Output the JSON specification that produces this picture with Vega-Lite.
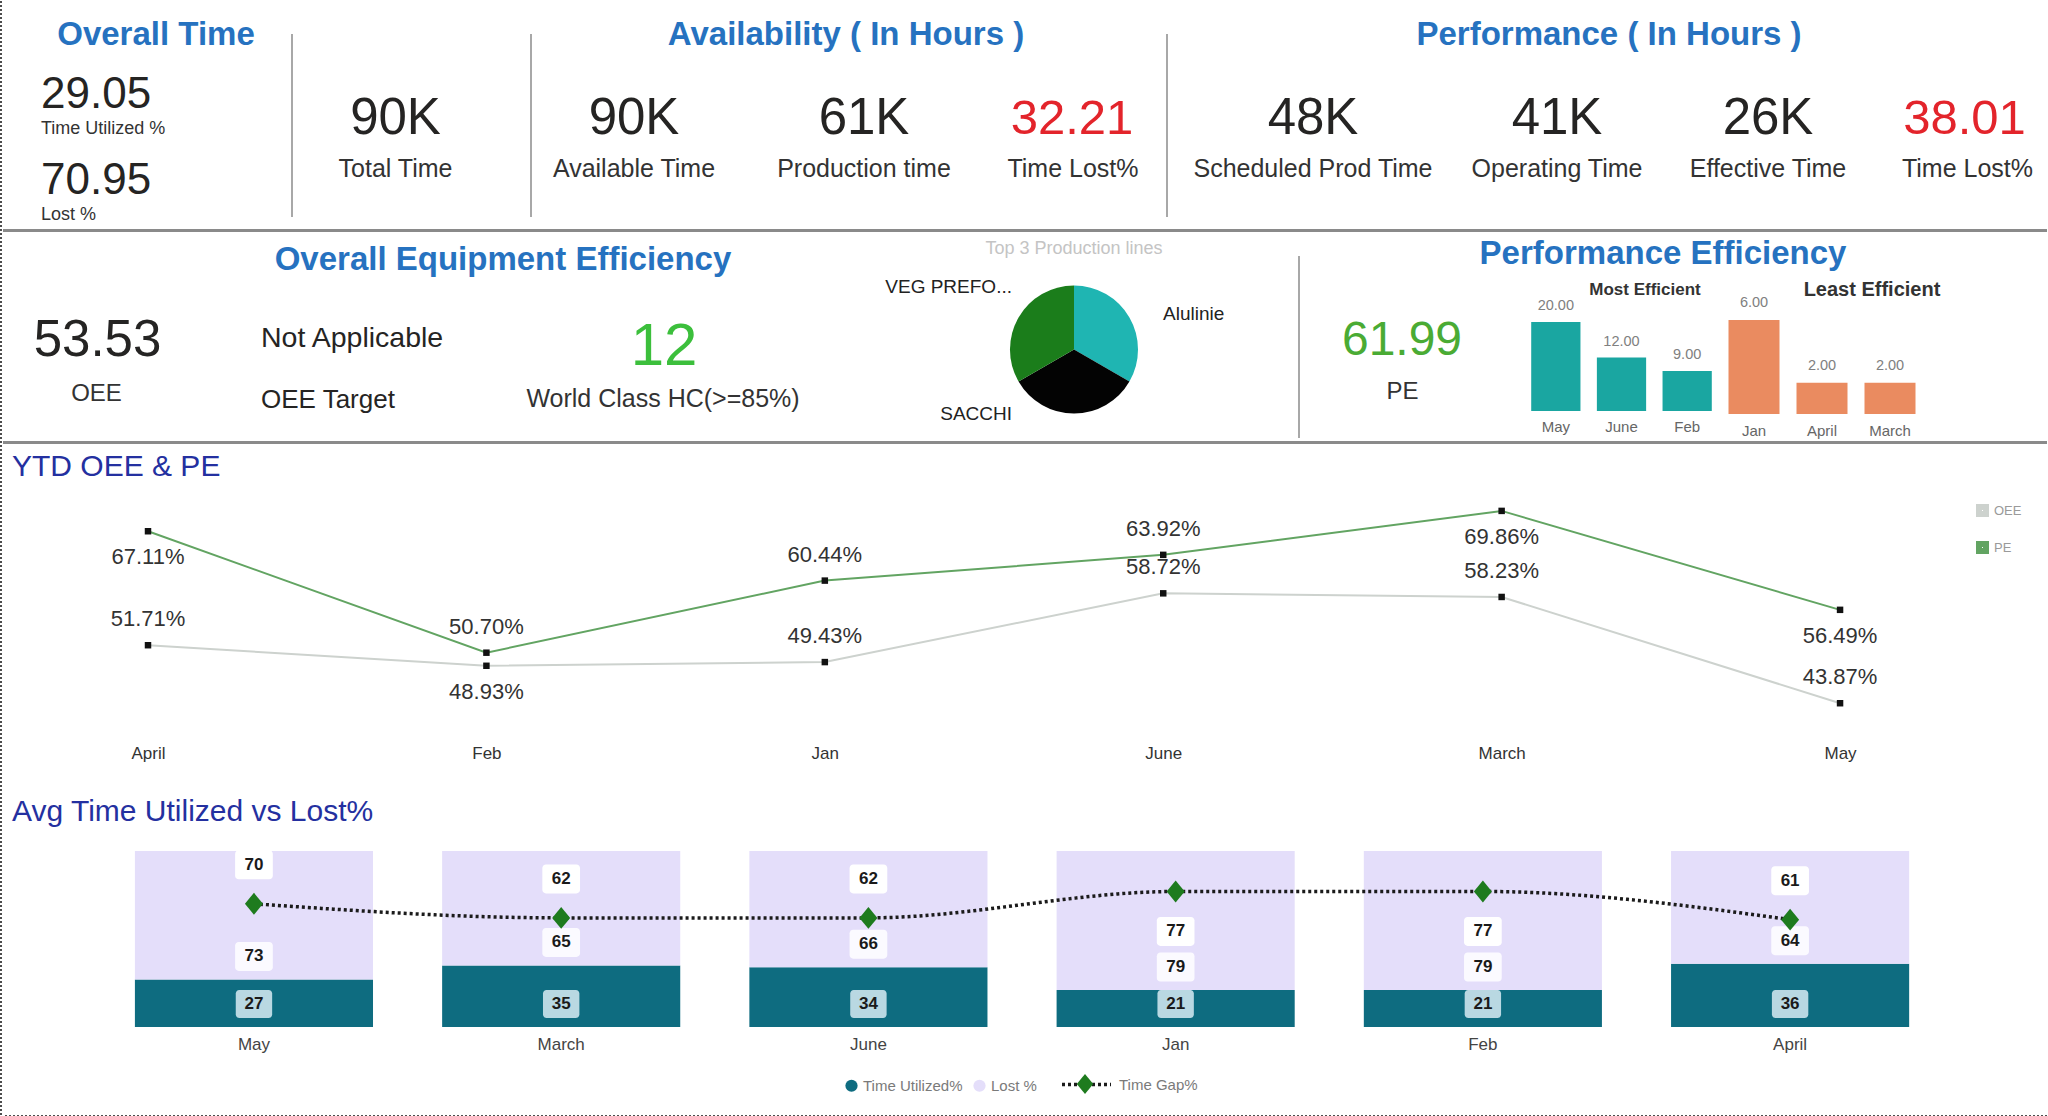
{
  "$schema": "https://vega.github.io/schema/vega-lite/v6.json",
  "background": "white",
  "padding": 0,
  "spacing": 0,
  "config": {"view": {"stroke": null}, "concat": {"spacing": 0}, "font": "Liberation Sans"},
  "resolve": {"scale": {"color": "independent", "theta": "independent", "strokeDash": "independent", "shape": "independent"}, "legend": {"color": "independent", "strokeDash": "independent", "shape": "independent"}},
  "hconcat": [
    {"width": 1, "height": 1115, "data": {"values": [{}]}, "mark": {"type": "rule", "color": "#4d4d4d", "strokeWidth": 2, "strokeDash": [2, 2]}, "encoding": {"x": {"value": "width"}}},
    {
      "spacing": 0,
      "resolve": {"scale": {"color": "independent", "theta": "independent", "strokeDash": "independent", "shape": "independent"}, "legend": {"color": "independent", "strokeDash": "independent", "shape": "independent"}},
      "vconcat": [
        {
          "spacing": 0,
          "hconcat": [
            {"width": 288, "height": 228, "layer": [
              {"data": {"values": [{"heading": "Overall Time"}]}, "mark": {"type": "text", "fontWeight": "bold", "fontSize": 33, "color": "#2672c0", "baseline": "alphabetic", "dx": 9, "dy": -70}, "encoding": {"text": {"field": "heading", "type": "nominal"}}},
              {"data": {"values": [{"metric": "Time Utilized %", "display": "29.05"}, {"metric": "Lost %", "display": "70.95"}]},
               "encoding": {"y": {"field": "metric", "type": "nominal", "sort": null, "scale": {"type": "point", "padding": 0.8256}, "axis": null}},
               "layer": [
                 {"mark": {"type": "text", "fontSize": 44, "color": "#252423", "align": "left", "baseline": "alphabetic", "dx": -106, "dy": 36}, "encoding": {"text": {"field": "display", "type": "nominal"}}},
                 {"mark": {"type": "text", "fontSize": 18, "color": "#333333", "align": "left", "baseline": "alphabetic", "dx": -106, "dy": 62}, "encoding": {"text": {"field": "metric", "type": "nominal"}}}
               ]}
            ]},
            {"spacing": 0, "vconcat": [
              {"width": 2, "height": 33, "data": {"values": []}, "mark": "point", "encoding": {}},
              {"width": 2, "height": 183, "view": {"fill": "#a8a8a8", "stroke": null}, "data": {"values": []}, "mark": "point", "encoding": {}},
              {"width": 2, "height": 12, "data": {"values": []}, "mark": "point", "encoding": {}}
            ]},
            {"width": 237, "height": 228, "data": {"values": [{"metric": "Total Time", "display": "90K"}]}, "layer": [
              {"mark": {"type": "text", "fontSize": 51, "color": "#252423", "baseline": "alphabetic", "dx": -16, "dy": 19}, "encoding": {"text": {"field": "display", "type": "nominal"}}},
              {"mark": {"type": "text", "fontSize": 25, "color": "#333333", "baseline": "alphabetic", "dx": -16, "dy": 62}, "encoding": {"text": {"field": "metric", "type": "nominal"}}}
            ]},
            {"spacing": 0, "vconcat": [
              {"width": 2, "height": 33, "data": {"values": []}, "mark": "point", "encoding": {}},
              {"width": 2, "height": 183, "view": {"fill": "#a8a8a8", "stroke": null}, "data": {"values": []}, "mark": "point", "encoding": {}},
              {"width": 2, "height": 12, "data": {"values": []}, "mark": "point", "encoding": {}}
            ]},
            {"spacing": 0, "vconcat": [
              {"width": 634, "height": 60, "data": {"values": [{"heading": "Availability ( In Hours )"}]}, "mark": {"type": "text", "fontWeight": "bold", "fontSize": 33, "color": "#2672c0", "baseline": "alphabetic", "dx": -3, "dy": 14}, "encoding": {"text": {"field": "heading", "type": "nominal"}}},
              {"spacing": 0, "hconcat": [
                {"width": 206, "height": 168, "data": {"values": [{"metric": "Available Time", "display": "90K"}]}, "layer": [
                  {"mark": {"type": "text", "fontSize": 51, "color": "#252423", "baseline": "alphabetic", "dx": -1, "dy": -11}, "encoding": {"text": {"field": "display", "type": "nominal"}}},
                  {"mark": {"type": "text", "fontSize": 25, "color": "#333333", "baseline": "alphabetic", "dx": -1, "dy": 32}, "encoding": {"text": {"field": "metric", "type": "nominal"}}}
                ]},
                {"width": 252, "height": 168, "data": {"values": [{"metric": "Production time", "display": "61K"}]}, "layer": [
                  {"mark": {"type": "text", "fontSize": 51, "color": "#252423", "baseline": "alphabetic", "dy": -11}, "encoding": {"text": {"field": "display", "type": "nominal"}}},
                  {"mark": {"type": "text", "fontSize": 25, "color": "#333333", "baseline": "alphabetic", "dy": 32}, "encoding": {"text": {"field": "metric", "type": "nominal"}}}
                ]},
                {"width": 176, "height": 168, "data": {"values": [{"metric": "Time Lost%", "display": "32.21"}]}, "layer": [
                  {"mark": {"type": "text", "fontSize": 49, "color": "#e3242b", "baseline": "alphabetic", "dx": -6, "dy": -11}, "encoding": {"text": {"field": "display", "type": "nominal"}}},
                  {"mark": {"type": "text", "fontSize": 25, "color": "#333333", "baseline": "alphabetic", "dx": -5, "dy": 32}, "encoding": {"text": {"field": "metric", "type": "nominal"}}}
                ]}
              ]}
            ]},
            {"spacing": 0, "vconcat": [
              {"width": 2, "height": 33, "data": {"values": []}, "mark": "point", "encoding": {}},
              {"width": 2, "height": 183, "view": {"fill": "#a8a8a8", "stroke": null}, "data": {"values": []}, "mark": "point", "encoding": {}},
              {"width": 2, "height": 12, "data": {"values": []}, "mark": "point", "encoding": {}}
            ]},
            {"spacing": 0, "vconcat": [
              {"width": 879, "height": 60, "data": {"values": [{"heading": "Performance ( In Hours )"}]}, "mark": {"type": "text", "fontWeight": "bold", "fontSize": 33, "color": "#2672c0", "baseline": "alphabetic", "dx": 1.5, "dy": 14}, "encoding": {"text": {"field": "heading", "type": "nominal"}}},
              {"spacing": 0, "hconcat": [
                {"width": 292, "height": 168, "data": {"values": [{"metric": "Scheduled Prod Time", "display": "48K"}]}, "layer": [
                  {"mark": {"type": "text", "fontSize": 51, "color": "#252423", "baseline": "alphabetic", "dx": -1, "dy": -11}, "encoding": {"text": {"field": "display", "type": "nominal"}}},
                  {"mark": {"type": "text", "fontSize": 25, "color": "#333333", "baseline": "alphabetic", "dx": -1, "dy": 32}, "encoding": {"text": {"field": "metric", "type": "nominal"}}}
                ]},
                {"width": 194, "height": 168, "data": {"values": [{"metric": "Operating Time", "display": "41K"}]}, "layer": [
                  {"mark": {"type": "text", "fontSize": 51, "color": "#252423", "baseline": "alphabetic", "dy": -11}, "encoding": {"text": {"field": "display", "type": "nominal"}}},
                  {"mark": {"type": "text", "fontSize": 25, "color": "#333333", "baseline": "alphabetic", "dy": 32}, "encoding": {"text": {"field": "metric", "type": "nominal"}}}
                ]},
                {"width": 228, "height": 168, "data": {"values": [{"metric": "Effective Time", "display": "26K"}]}, "layer": [
                  {"mark": {"type": "text", "fontSize": 51, "color": "#252423", "baseline": "alphabetic", "dy": -11}, "encoding": {"text": {"field": "display", "type": "nominal"}}},
                  {"mark": {"type": "text", "fontSize": 25, "color": "#333333", "baseline": "alphabetic", "dy": 32}, "encoding": {"text": {"field": "metric", "type": "nominal"}}}
                ]},
                {"width": 165, "height": 168, "data": {"values": [{"metric": "Time Lost%", "display": "38.01"}]}, "layer": [
                  {"mark": {"type": "text", "fontSize": 49, "color": "#e3242b", "baseline": "alphabetic", "dy": -11}, "encoding": {"text": {"field": "display", "type": "nominal"}}},
                  {"mark": {"type": "text", "fontSize": 25, "color": "#333333", "baseline": "alphabetic", "dx": 3, "dy": 32}, "encoding": {"text": {"field": "metric", "type": "nominal"}}}
                ]}
              ]}
            ]}
          ]
        },
        {"width": 2044, "height": 3, "view": {"fill": "#8a8a8a", "stroke": null}, "data": {"values": []}, "mark": "point", "encoding": {}},
        {
          "spacing": 0,
          "resolve": {"scale": {"color": "independent", "theta": "independent"}, "legend": {"color": "independent"}},
          "hconcat": [
            {"width": 191, "height": 209, "data": {"values": [{"metric": "OEE", "display": "53.53"}]}, "layer": [
              {"mark": {"type": "text", "fontSize": 51, "color": "#252423", "baseline": "alphabetic", "dx": -1, "dy": 19.5}, "encoding": {"text": {"field": "display", "type": "nominal"}}},
              {"mark": {"type": "text", "fontSize": 24, "color": "#333333", "baseline": "alphabetic", "dx": -2, "dy": 64.5}, "encoding": {"text": {"field": "metric", "type": "nominal"}}}
            ]},
            {"spacing": 0, "vconcat": [
              {"width": 656, "height": 50, "data": {"values": [{"heading": "Overall Equipment Efficiency"}]}, "mark": {"type": "text", "fontWeight": "bold", "fontSize": 33, "color": "#2672c0", "baseline": "alphabetic", "dx": -19, "dy": 13}, "encoding": {"text": {"field": "heading", "type": "nominal"}}},
              {"spacing": 0, "hconcat": [
                {"width": 284, "height": 159, "data": {"values": [{"target": "Not Applicable", "label": "OEE Target"}]}, "layer": [
                  {"mark": {"type": "text", "fontSize": 28.5, "color": "#252423", "align": "left", "baseline": "alphabetic", "dx": -75, "dy": -14.5}, "encoding": {"text": {"field": "target", "type": "nominal"}}},
                  {"mark": {"type": "text", "fontSize": 26, "color": "#252423", "align": "left", "baseline": "alphabetic", "dx": -75, "dy": 46.5}, "encoding": {"text": {"field": "label", "type": "nominal"}}}
                ]},
                {"width": 372, "height": 159, "data": {"values": [{"metric": "World Class HC(>=85%)", "display": "12"}]}, "layer": [
                  {"mark": {"type": "text", "fontSize": 60, "color": "#3cbf3c", "baseline": "alphabetic", "dy": 3.5}, "encoding": {"text": {"field": "display", "type": "nominal"}}},
                  {"mark": {"type": "text", "fontSize": 25, "color": "#333333", "baseline": "alphabetic", "dx": -1, "dy": 45.5}, "encoding": {"text": {"field": "metric", "type": "nominal"}}}
                ]}
              ]}
            ]},
            {"spacing": 0, "vconcat": [
              {"width": 448, "height": 26, "data": {"values": [{"caption": "Top 3  Production lines"}]}, "mark": {"type": "text", "fontSize": 18, "color": "#c4c4c4", "baseline": "alphabetic", "dy": 9}, "encoding": {"text": {"field": "caption", "type": "nominal"}}},
              {"width": 448, "height": 183,
               "data": {"values": [{"line": "Alulinie", "share": 1}, {"line": "SACCHI", "share": 1}, {"line": "VEG PREFO...", "share": 1}]},
               "layer": [
                 {"mark": {"type": "arc", "outerRadius": 64},
                  "encoding": {
                    "theta": {"field": "share", "type": "quantitative", "stack": true},
                    "order": {"field": "line", "type": "nominal", "sort": "ascending"},
                    "color": {"field": "line", "type": "nominal", "scale": {"domain": ["Alulinie", "SACCHI", "VEG PREFO..."], "range": ["#1fb5b2", "#030303", "#1b7d1b"]}, "legend": null}
                  }},
                 {"transform": [{"filter": "datum.line == 'VEG PREFO...'"}], "mark": {"type": "text", "fontSize": 19, "color": "#222222", "align": "right", "baseline": "middle", "dx": -62, "dy": -62.5}, "encoding": {"text": {"field": "line", "type": "nominal"}}},
                 {"transform": [{"filter": "datum.line == 'Alulinie'"}], "mark": {"type": "text", "fontSize": 19, "color": "#222222", "align": "left", "baseline": "middle", "dx": 89, "dy": -35.5}, "encoding": {"text": {"field": "line", "type": "nominal"}}},
                 {"transform": [{"filter": "datum.line == 'SACCHI'"}], "mark": {"type": "text", "fontSize": 19, "color": "#222222", "align": "right", "baseline": "middle", "dx": -62, "dy": 64.5}, "encoding": {"text": {"field": "line", "type": "nominal"}}}
               ]}
            ]},
            {"spacing": 0, "vconcat": [
              {"width": 2, "height": 24, "data": {"values": []}, "mark": "point", "encoding": {}},
              {"width": 2, "height": 182, "view": {"fill": "#a8a8a8", "stroke": null}, "data": {"values": []}, "mark": "point", "encoding": {}},
              {"width": 2, "height": 3, "data": {"values": []}, "mark": "point", "encoding": {}}
            ]},
            {"spacing": 0, "vconcat": [
              {"width": 747, "height": 44, "data": {"values": [{"heading": "Performance Efficiency"}]}, "mark": {"type": "text", "fontWeight": "bold", "fontSize": 33, "color": "#2672c0", "baseline": "alphabetic", "dx": -10.5, "dy": 10}, "encoding": {"text": {"field": "heading", "type": "nominal"}}},
              {"spacing": 0, "hconcat": [
                {"width": 223, "height": 165, "data": {"values": [{"metric": "PE", "display": "61.99"}]}, "layer": [
                  {"mark": {"type": "text", "fontSize": 48, "color": "#4aab34", "baseline": "alphabetic", "dx": -9.5, "dy": -3.5}, "encoding": {"text": {"field": "display", "type": "nominal"}}},
                  {"mark": {"type": "text", "fontSize": 24, "color": "#333333", "baseline": "alphabetic", "dx": -9, "dy": 40.5}, "encoding": {"text": {"field": "metric", "type": "nominal"}}}
                ]},
                {"width": 197, "height": 165, "layer": [
                  {"data": {"values": [{"month": "May", "count": 20}, {"month": "June", "count": 12}, {"month": "Feb", "count": 9}]},
                   "encoding": {
                     "x": {"field": "month", "type": "nominal", "sort": null, "scale": {"type": "band", "paddingInner": 0.25, "paddingOuter": 0.125}, "axis": null},
                     "y": {"field": "count", "type": "quantitative", "scale": {"domain": [-6.74, 30.34], "nice": false, "zero": false}, "axis": null}
                   },
                   "layer": [
                     {"mark": {"type": "bar", "color": "#1aa6a1"}, "encoding": {"y2": {"datum": 0}}},
                     {"mark": {"type": "text", "fontSize": 14.5, "color": "#808080", "baseline": "bottom", "dy": -9}, "encoding": {"text": {"field": "count", "type": "quantitative", "format": ".2f"}}},
                     {"mark": {"type": "text", "fontSize": 15, "color": "#666666", "baseline": "top", "dy": 9}, "encoding": {"y": {"datum": 0}, "text": {"field": "month", "type": "nominal"}}}
                   ]},
                  {"data": {"values": [{"caption": "Most Efficient"}]}, "mark": {"type": "text", "fontWeight": "bold", "fontSize": 17, "color": "#333333", "baseline": "middle", "dx": 23.5, "dy": -68.5}, "encoding": {"text": {"field": "caption", "type": "nominal"}}}
                ]},
                {"width": 204, "height": 165, "layer": [
                  {"data": {"values": [{"month": "Jan", "count": 6}, {"month": "April", "count": 2}, {"month": "March", "count": 2}]},
                   "encoding": {
                     "x": {"field": "month", "type": "nominal", "sort": null, "scale": {"type": "band", "paddingInner": 0.25, "paddingOuter": 0.125}, "axis": null},
                     "y": {"field": "count", "type": "quantitative", "scale": {"domain": [-1.72, 8.81], "nice": false, "zero": false}, "axis": null}
                   },
                   "layer": [
                     {"mark": {"type": "bar", "color": "#ea8b60"}, "encoding": {"y2": {"datum": 0}}},
                     {"mark": {"type": "text", "fontSize": 14.5, "color": "#808080", "baseline": "bottom", "dy": -10}, "encoding": {"text": {"field": "count", "type": "quantitative", "format": ".2f"}}},
                     {"mark": {"type": "text", "fontSize": 15, "color": "#666666", "baseline": "top", "dy": 10}, "encoding": {"y": {"datum": 0}, "text": {"field": "month", "type": "nominal"}}}
                   ]},
                  {"data": {"values": [{"caption": "Least Efficient"}]}, "mark": {"type": "text", "fontWeight": "bold", "fontSize": 20, "color": "#333333", "baseline": "middle", "dx": 50, "dy": -68.5}, "encoding": {"text": {"field": "caption", "type": "nominal"}}}
                ]},
                {"width": 123, "height": 165, "data": {"values": []}, "mark": "point", "encoding": {}}
              ]}
            ]}
          ]
        },
        {"width": 2044, "height": 3, "view": {"fill": "#8a8a8a", "stroke": null}, "data": {"values": []}, "mark": "point", "encoding": {}},
        {
          "width": 2044,
          "height": 347,
          "layer": [
            {
              "data": {"values": [
                {"month": "April", "series": "PE", "value": 0.6711},
                {"month": "Feb", "series": "PE", "value": 0.5070},
                {"month": "Jan", "series": "PE", "value": 0.6044},
                {"month": "June", "series": "PE", "value": 0.6392},
                {"month": "March", "series": "PE", "value": 0.6986},
                {"month": "May", "series": "PE", "value": 0.5649},
                {"month": "April", "series": "OEE", "value": 0.5171},
                {"month": "Feb", "series": "OEE", "value": 0.4893},
                {"month": "Jan", "series": "OEE", "value": 0.4943},
                {"month": "June", "series": "OEE", "value": 0.5872},
                {"month": "March", "series": "OEE", "value": 0.5823},
                {"month": "May", "series": "OEE", "value": 0.4387}
              ]},
              "encoding": {
                "x": {"field": "month", "type": "nominal", "sort": ["April", "Feb", "Jan", "June", "March", "May"],
                      "scale": {"type": "point", "padding": 0.52, "align": 0.412},
                      "axis": {"title": null, "orient": "bottom", "offset": -46, "labelPadding": 0, "labelFontSize": 17, "labelColor": "#333333", "labelAngle": 0, "domain": false, "ticks": false, "grid": false}},
                "y": {"field": "value", "type": "quantitative", "scale": {"domain": [0.3201, 0.789], "nice": false, "zero": false}, "axis": null}
              },
              "layer": [
                {"mark": {"type": "line", "strokeWidth": 2},
                 "encoding": {"color": {"field": "series", "type": "nominal", "scale": {"domain": ["OEE", "PE"], "range": ["#cdd2ce", "#62a462"]},
                   "legend": {"orient": "none", "legendX": 1973, "legendY": 60, "title": null, "symbolType": "square", "symbolSize": 49, "symbolStrokeWidth": 6, "labelFontSize": 13, "labelColor": "#9a9a9a", "rowPadding": 6, "labelOffset": 5}}}},
                {"mark": {"type": "point", "shape": "square", "filled": true, "color": "#111111", "size": 42, "opacity": 1}},
                {"transform": [{"filter": "(datum.series == 'PE' && (datum.month == 'Feb' || datum.month == 'Jan' || datum.month == 'June')) || (datum.series == 'OEE' && datum.month != 'Feb')"}],
                 "mark": {"type": "text", "fontSize": 22, "color": "#333333", "baseline": "middle", "dy": -26},
                 "encoding": {"text": {"field": "value", "type": "quantitative", "format": ".2%"}}},
                {"transform": [{"filter": "!((datum.series == 'PE' && (datum.month == 'Feb' || datum.month == 'Jan' || datum.month == 'June')) || (datum.series == 'OEE' && datum.month != 'Feb'))"}],
                 "mark": {"type": "text", "fontSize": 22, "color": "#333333", "baseline": "middle", "dy": 26},
                 "encoding": {"text": {"field": "value", "type": "quantitative", "format": ".2%"}}}
              ]
            },
            {"data": {"values": [{"title": "YTD OEE & PE"}]}, "mark": {"type": "text", "fontSize": 30, "color": "#2430a0", "align": "left", "baseline": "middle", "dx": -1013, "dy": -150.5}, "encoding": {"text": {"field": "title", "type": "nominal"}}}
          ]
        },
        {
          "width": 2044,
          "height": 324,
          "layer": [
            {
              "data": {"values": [
                {"month": "May", "Time Utilized%": 27, "Lost %": 73, "Time Gap%": 70},
                {"month": "March", "Time Utilized%": 35, "Lost %": 65, "Time Gap%": 62},
                {"month": "June", "Time Utilized%": 34, "Lost %": 66, "Time Gap%": 62},
                {"month": "Jan", "Time Utilized%": 21, "Lost %": 79, "Time Gap%": 77},
                {"month": "Feb", "Time Utilized%": 21, "Lost %": 79, "Time Gap%": 77},
                {"month": "April", "Time Utilized%": 36, "Lost %": 64, "Time Gap%": 61}
              ]},
              "encoding": {
                "x": {"field": "month", "type": "nominal", "sort": null,
                      "scale": {"type": "band", "paddingInner": 0.225, "paddingOuter": 0.439, "align": 0.489},
                      "axis": {"title": null, "orient": "bottom", "offset": -79, "labelPadding": 0, "labelFontSize": 17, "labelColor": "#444444", "labelAngle": 0, "domain": false, "ticks": false, "grid": false}}
              },
              "layer": [
                {"transform": [{"fold": ["Time Utilized%", "Lost %"], "as": ["measure", "pct"]}],
                 "mark": {"type": "bar"},
                 "encoding": {
                   "y": {"field": "pct", "type": "quantitative", "stack": "zero", "scale": {"domain": [-50, 134.09], "nice": false, "zero": false}, "axis": null},
                   "order": {"field": "measure", "type": "nominal", "sort": "descending"},
                   "color": {"field": "measure", "type": "nominal", "scale": {"domain": ["Time Utilized%", "Lost %"], "range": ["#0e6c80", "#e4defa"]},
                     "legend": {"orient": "none", "legendX": 841, "legendY": 287, "direction": "horizontal", "title": null, "symbolType": "circle", "symbolSize": 150, "symbolStrokeWidth": 0, "labelFontSize": 15, "labelColor": "#7a7a7a", "columnPadding": 9, "labelOffset": 4}}
                 }},
                {"mark": {"type": "point", "shape": "M-1.05,-1H1.05A0.25,0.25 0 0 1 1.3,-0.75V0.75A0.25,0.25 0 0 1 1.05,1H-1.05A0.25,0.25 0 0 1 -1.3,0.75V-0.75A0.25,0.25 0 0 1 -1.05,-1Z", "filled": true, "color": "#b9d8e2", "size": 784, "opacity": 1, "strokeWidth": 0, "yOffset": -23},
                 "encoding": {"y": {"datum": 0, "scale": {"domain": [-50, 134.09], "nice": false, "zero": false}}}},
                {"mark": {"type": "text", "fontSize": 17, "fontWeight": "bold", "color": "#1a1a1a", "baseline": "middle", "dy": -23},
                 "encoding": {"y": {"datum": 0, "scale": {"domain": [-50, 134.09], "nice": false, "zero": false}}, "text": {"field": "Time Utilized%", "type": "quantitative"}}},
                {"mark": {"type": "point", "shape": "M-1.05,-1H1.05A0.25,0.25 0 0 1 1.3,-0.75V0.75A0.25,0.25 0 0 1 1.05,1H-1.05A0.25,0.25 0 0 1 -1.3,0.75V-0.75A0.25,0.25 0 0 1 -1.05,-1Z", "filled": true, "color": "#fbfaff", "size": 841, "opacity": 1, "strokeWidth": 0, "yOffset": -23},
                 "encoding": {"y": {"field": "Time Utilized%", "type": "quantitative", "scale": {"domain": [-50, 134.09], "nice": false, "zero": false}}}},
                {"mark": {"type": "text", "fontSize": 17, "fontWeight": "bold", "color": "#1a1a1a", "baseline": "middle", "dy": -23},
                 "encoding": {"y": {"field": "Time Utilized%", "type": "quantitative", "scale": {"domain": [-50, 134.09], "nice": false, "zero": false}}, "text": {"field": "Lost %", "type": "quantitative"}}},
                {"mark": {"type": "line", "color": "#1b1b1b", "strokeWidth": 3.5, "interpolate": "monotone"},
                 "encoding": {
                   "y": {"field": "Time Gap%", "type": "quantitative", "scale": {"domain": [-50, 134.09], "nice": false, "zero": false}},
                   "strokeDash": {"datum": "Time Gap%", "scale": {"range": [[3, 3]]},
                     "legend": {"orient": "none", "legendX": 1057, "legendY": 267, "title": null, "symbolType": "stroke", "symbolSize": 2401, "symbolStrokeWidth": 3.5, "symbolStrokeColor": "#1b1b1b", "labelFontSize": 15, "labelColor": "#7a7a7a", "labelOffset": 6}}
                 }},
                {"mark": {"type": "point", "filled": true, "color": "#1e7b1e", "size": 361, "opacity": 1, "strokeWidth": 0},
                 "encoding": {
                   "y": {"field": "Time Gap%", "type": "quantitative", "scale": {"domain": [-50, 134.09], "nice": false, "zero": false}},
                   "shape": {"datum": "Gap", "scale": {"range": ["M0,-1.15L0.95,0L0,1.15L-0.95,0Z"]},
                     "legend": {"orient": "none", "legendX": 1073, "legendY": 284, "title": null, "symbolSize": 300, "symbolFillColor": "#1e7b1e", "symbolStrokeWidth": 0, "labelExpr": "''", "labelFontSize": 1}}
                 }},
                {"transform": [{"filter": "datum.month != 'Jan' && datum.month != 'Feb'"}],
                 "mark": {"type": "point", "shape": "M-1.05,-1H1.05A0.25,0.25 0 0 1 1.3,-0.75V0.75A0.25,0.25 0 0 1 1.05,1H-1.05A0.25,0.25 0 0 1 -1.3,0.75V-0.75A0.25,0.25 0 0 1 -1.05,-1Z", "filled": true, "color": "#ffffff", "size": 841, "opacity": 1, "strokeWidth": 0, "yOffset": -39},
                 "encoding": {"y": {"field": "Time Gap%", "type": "quantitative", "scale": {"domain": [-50, 134.09], "nice": false, "zero": false}}}},
                {"transform": [{"filter": "datum.month != 'Jan' && datum.month != 'Feb'"}],
                 "mark": {"type": "text", "fontSize": 17, "fontWeight": "bold", "color": "#1a1a1a", "baseline": "middle", "dy": -39},
                 "encoding": {"y": {"field": "Time Gap%", "type": "quantitative", "scale": {"domain": [-50, 134.09], "nice": false, "zero": false}}, "text": {"field": "Time Gap%", "type": "quantitative"}}},
                {"transform": [{"filter": "datum.month == 'Jan' || datum.month == 'Feb'"}],
                 "mark": {"type": "point", "shape": "M-1.05,-1H1.05A0.25,0.25 0 0 1 1.3,-0.75V0.75A0.25,0.25 0 0 1 1.05,1H-1.05A0.25,0.25 0 0 1 -1.3,0.75V-0.75A0.25,0.25 0 0 1 -1.05,-1Z", "filled": true, "color": "#ffffff", "size": 841, "opacity": 1, "strokeWidth": 0, "yOffset": 40},
                 "encoding": {"y": {"field": "Time Gap%", "type": "quantitative", "scale": {"domain": [-50, 134.09], "nice": false, "zero": false}}}},
                {"transform": [{"filter": "datum.month == 'Jan' || datum.month == 'Feb'"}],
                 "mark": {"type": "text", "fontSize": 17, "fontWeight": "bold", "color": "#1a1a1a", "baseline": "middle", "dy": 40},
                 "encoding": {"y": {"field": "Time Gap%", "type": "quantitative", "scale": {"domain": [-50, 134.09], "nice": false, "zero": false}}, "text": {"field": "Time Gap%", "type": "quantitative"}}}
              ]
            },
            {"data": {"values": [{"title": "Avg Time Utilized vs Lost%"}]}, "mark": {"type": "text", "fontSize": 30, "color": "#2430a0", "align": "left", "baseline": "middle", "dx": -1013, "dy": -141}, "encoding": {"text": {"field": "title", "type": "nominal"}}}
          ]
        },
        {"width": 2044, "height": 1, "data": {"values": [{}]}, "mark": {"type": "rule", "color": "#4d4d4d", "strokeWidth": 2, "strokeDash": [2, 2]}, "encoding": {"y": {"value": "height"}}}
      ]
    },
    {"width": 1, "height": 1115, "data": {"values": [{}]}, "mark": {"type": "rule", "color": "#4d4d4d", "strokeWidth": 2, "strokeDash": [2, 2]}, "encoding": {"x": {"value": "width"}}}
  ]
}
